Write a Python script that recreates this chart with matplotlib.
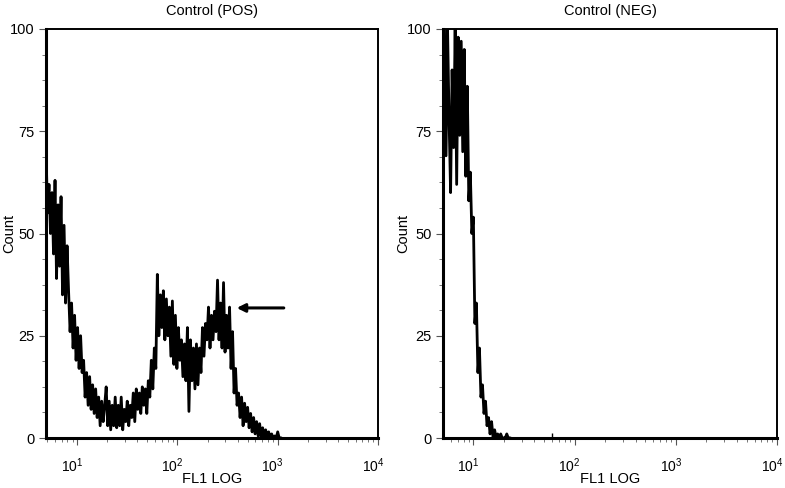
"""
Flow cytometry control histograms: FL1 LOG, positive vs negative control.
"""

import matplotlib
matplotlib.use("Agg")
import matplotlib.pyplot as plt
from matplotlib.ticker import LogLocator, MultipleLocator, NullFormatter
from matplotlib.transforms import ScaledTranslation
import numpy as np


# channel scale: one count per 0.015 decade, starting at the left edge of each axis
CH_STEP = 0.015
POS_START = 0.69
NEG_START = 0.70

# Control (POS) counts, left to right
pos_counts = [
    71, 55, 62, 50, 60,
    45, 63, 39, 57, 42,
    59, 35, 52, 33, 47,
    36, 26, 33, 22, 30,
    19, 27, 17, 25, 16,
    19, 10, 16, 8, 15,
    7, 13, 6, 12, 5,
    10, 3, 9, 4, 8,
    12.5, 3, 9, 2, 8,
    3, 10, 2.5, 8, 3,
    10, 2, 7, 4, 9,
    3, 8, 5, 11, 4,
    12, 7, 11, 6, 12.5,
    8, 12, 6, 14, 10,
    19, 12, 22, 17, 40,
    25, 35, 27, 36, 24,
    34, 25, 32, 20, 33.5,
    18, 30, 17, 27, 19,
    24, 15, 23, 14, 27,
    6.5, 24, 14, 22, 12,
    23, 13, 22, 16, 27,
    20, 28, 24, 32, 22,
    30, 24, 31, 26, 38.6,
    24, 33, 22, 38, 21,
    30, 22, 32, 17, 26,
    11, 17, 8, 11, 5,
    10, 3, 8.5, 4, 7.5,
    2.5, 6, 1.5, 5, 1,
    4, 0.5, 3.5, 0, 2.5,
    0, 2, 0, 1.5, 0,
    1, 0, 0.5, 0, 1.5,
    0, 0,
]

# Control (NEG) counts, left to right
neg_counts = [
    64, 100, 69, 100, 78,
    60, 90, 71, 100, 62,
    98, 74, 97, 70, 95,
    64, 86, 58, 65, 50,
    54, 28, 33, 16, 22,
    10, 13, 6, 9, 3,
    5, 1, 4, 0, 2,
    0, 1, 0, 1, 0,
    0, 0, 1, 0, 0,
]
neg_stray_x = [60]
neg_stray_y = [1.2]

# arrow marking the positive peak
arrow_tip = (390, 31.8)
arrow_tail = (1150, 31.8)

Y_TICKS = [0, 25, 50, 75, 100]


def configure_plotting():
    plt.rcParams["font.family"] = ["Liberation Sans", "DejaVu Sans"]
    plt.rcParams["font.size"] = 10.5
    plt.rcParams["mathtext.fontset"] = "custom"
    plt.rcParams["mathtext.rm"] = "Liberation Sans"
    plt.rcParams["mathtext.it"] = "Liberation Sans"
    plt.rcParams["mathtext.default"] = "regular"


def style_axis(fig, ax, log_left, title, ylabel_x):
    ax.set_xscale("log")
    ax.set_xlim(10 ** log_left, 1e4)
    ax.set_ylim(0, 100)
    ax.set_yticks(Y_TICKS)
    ax.yaxis.set_minor_locator(MultipleLocator(6.25))
    ax.xaxis.set_major_locator(LogLocator(base=10, numticks=10))
    ax.xaxis.set_minor_locator(LogLocator(base=10, subs=np.arange(2, 10), numticks=20))
    ax.xaxis.set_minor_formatter(NullFormatter())
    ax.tick_params(which="major", length=5, width=0.8, color="#555555", pad=3)
    ax.tick_params(which="minor", length=3, width=0.7, color="#777777")
    ax.tick_params(axis="x", which="major", pad=8, labelsize=10)
    ax.tick_params(axis="y", which="major", labelsize=10.5)
    for side in ("left", "bottom"):
        ax.spines[side].set_linewidth(2.2)
    for side in ("top", "right"):
        ax.spines[side].set_linewidth(1.4)
    ax.set_title(title, fontsize=10.5, pad=10)
    ax.set_xlabel("FL1 LOG", labelpad=-2)
    ax.set_ylabel("Count")
    ax.yaxis.set_label_coords(ylabel_x, 0.5)

    # decade labels sit slightly left of their tick, as in the original software
    shift = ScaledTranslation(-5 / 100, 0, fig.dpi_scale_trans)
    fig.canvas.draw()
    for lab in ax.xaxis.get_majorticklabels():
        lab.set_transform(lab.get_transform() + shift)


def main():
    configure_plotting()
    fig = plt.figure(figsize=(7.85, 4.88), dpi=100)
    ax_pos = fig.add_axes([46 / 785, 1 - 438 / 488, 332 / 785, 409 / 488])
    ax_neg = fig.add_axes([443 / 785, 1 - 438 / 488, 334 / 785, 409 / 488])

    pos_x = 10 ** (POS_START + CH_STEP * np.arange(len(pos_counts)))
    ax_pos.plot(pos_x, pos_counts, color="black", linewidth=2.0)
    ax_pos.annotate(
        "",
        xy=arrow_tip,
        xytext=arrow_tail,
        arrowprops={"arrowstyle": "-|>", "color": "black", "linewidth": 2.2,
                    "mutation_scale": 12, "shrinkA": 0, "shrinkB": 0},
    )
    style_axis(fig, ax_pos, POS_START, "Control (POS)", -0.09)

    neg_x = 10 ** (NEG_START + CH_STEP * np.arange(len(neg_counts)))
    ax_neg.plot(neg_x, neg_counts, color="black", linewidth=2.0)
    ax_neg.vlines(neg_stray_x, 0, neg_stray_y, color="black", linewidth=1.0)
    style_axis(fig, ax_neg, NEG_START, "Control (NEG)", -0.099)

    fig.savefig("out.png", dpi=100)


if __name__ == "__main__":
    main()
